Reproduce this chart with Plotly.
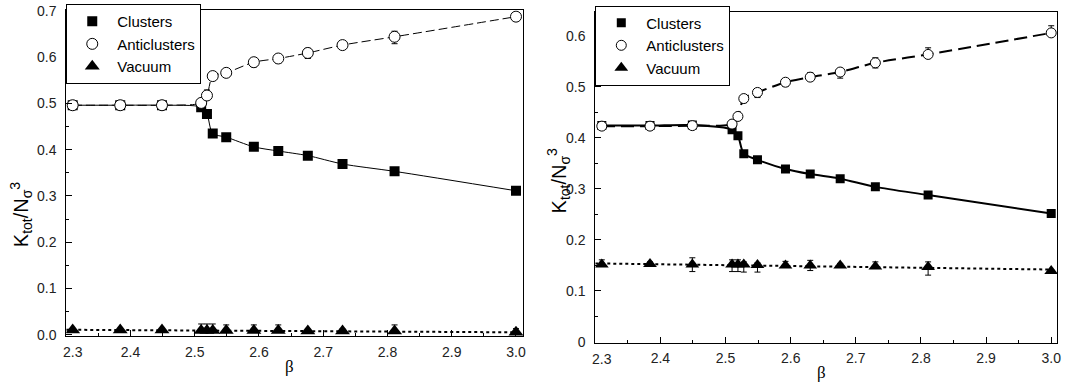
import plotly.graph_objects as go

# ---- data -------------------------------------------------------------
beta = [2.31, 2.384, 2.449, 2.51, 2.519, 2.528, 2.549, 2.592, 2.63, 2.676, 2.73, 2.811, 3.0]

# left panel
clusters_a = [0.496, 0.496, 0.496, 0.4917, 0.477, 0.435, 0.427, 0.406, 0.397, 0.387, 0.369, 0.353, 0.311]
clusters_a_err = [0, 0, 0, 0.006, 0.004, 0.004, 0.003, 0.003, 0.002, 0.002, 0.002, 0.002, 0.002]
anti_a = [0.496, 0.496, 0.496, 0.501, 0.517, 0.559, 0.566, 0.589, 0.597, 0.609, 0.626, 0.644, 0.6875]
anti_a_up = [0.003, 0.003, 0.003, 0.008, 0.012, 0.008, 0.004, 0.008, 0.004, 0.010, 0.008, 0.012, 0.009]
anti_a_dn = [0.003, 0.003, 0.003, 0.008, 0.004, 0.008, 0.004, 0.010, 0.010, 0.012, 0.008, 0.015, 0.009]
vacuum_a = [0.010, 0.010, 0.010, 0.009, 0.009, 0.009, 0.009, 0.009, 0.009, 0.008, 0.008, 0.008, 0.005]
vacuum_a_up = [0.003, 0.002, 0.003, 0.014, 0.014, 0.014, 0.012, 0.012, 0.012, 0.004, 0.004, 0.013, 0.008]
vacuum_a_dn = [0.002] * 13
vac_fit_a_x = [2.3, 3.0]
vac_fit_a_y = [0.0105, 0.005]

# right panel
clusters_b = [0.424, 0.424, 0.425, 0.416, 0.404, 0.369, 0.357, 0.339, 0.329, 0.320, 0.304, 0.288, 0.252]
clusters_b_err = [0, 0, 0, 0.006, 0.004, 0.003, 0.003, 0.003, 0.002, 0.002, 0.002, 0.002, 0.002]
anti_b = [0.423, 0.423, 0.424, 0.427, 0.442, 0.477, 0.489, 0.509, 0.519, 0.529, 0.547, 0.5635, 0.6057]
anti_b_up = [0.003, 0.003, 0.003, 0.006, 0.004, 0.004, 0.004, 0.004, 0.009, 0.004, 0.010, 0.013, 0.014]
anti_b_dn = [0.003, 0.003, 0.003, 0.006, 0.004, 0.008, 0.010, 0.008, 0.004, 0.012, 0.010, 0.004, 0.004]
vacuum_b = [0.152, 0.153, 0.152, 0.152, 0.152, 0.152, 0.151, 0.150, 0.150, 0.150, 0.148, 0.147, 0.139]
vacuum_b_up = [0.009, 0.004, 0.013, 0.009, 0.009, 0.005, 0.004, 0.008, 0.010, 0.004, 0.009, 0.010, 0.003]
vacuum_b_dn = [0.004, 0.004, 0.014, 0.014, 0.014, 0.015, 0.014, 0.004, 0.010, 0.004, 0.004, 0.016, 0.003]
vac_fit_b_x = [2.3, 3.0]
vac_fit_b_y = [0.154, 0.142]

series_names = ["Clusters", "Anticlusters", "Vacuum"]
x_ticks = [2.3, 2.4, 2.5, 2.6, 2.7, 2.8, 2.9, 3.0]
y_ticks_a = [0.0, 0.1, 0.2, 0.3, 0.4, 0.5, 0.6, 0.7]
y_ticks_b = [0.0, 0.1, 0.2, 0.3, 0.4, 0.5, 0.6]
y_labels_b = ["0", "0.1", "0.2", "0.3", "0.4", "0.5", "0.6"]

# ---- page geometry ----------------------------------------------------
W, H = 1082, 390


def fx(p):
    return p / W


def fy(p):
    return 1 - p / H


FONT = "Liberation Sans, Arial, sans-serif"
SERIF = "Liberation Serif, Times New Roman, serif"
fig = go.Figure()


def add_panel(xa, ya, legend, cl, cl_err, ac, ac_up, ac_dn, vac, vac_up, vac_dn,
              fit_x, fit_y, lw, dash, msz):
    # fitted curves (no legend entries)
    fig.add_trace(go.Scatter(x=beta, y=cl, mode="lines", xaxis=xa, yaxis=ya,
                             line=dict(color="black", width=lw, shape="spline", smoothing=0.8),
                             showlegend=False, hoverinfo="skip"))
    fig.add_trace(go.Scatter(x=beta, y=ac, mode="lines", xaxis=xa, yaxis=ya,
                             line=dict(color="black", width=lw, shape="spline", smoothing=0.8, dash=dash),
                             showlegend=False, hoverinfo="skip"))
    fig.add_trace(go.Scatter(x=fit_x, y=fit_y, mode="lines", xaxis=xa, yaxis=ya,
                             line=dict(color="black", width=2, dash="dot"),
                             showlegend=False, hoverinfo="skip"))
    # measured points with error bars
    fig.add_trace(go.Scatter(x=beta, y=cl, mode="markers", name=series_names[0], xaxis=xa, yaxis=ya,
                             legend=legend, legendrank=1,
                             marker=dict(symbol="square", size=msz, color="black"),
                             error_y=dict(type="data", array=cl_err, color="black", thickness=1, width=3)))
    fig.add_trace(go.Scatter(x=beta, y=vac, mode="markers", name=series_names[2], xaxis=xa, yaxis=ya,
                             legend=legend, legendrank=3,
                             marker=dict(symbol="triangle-up", size=msz + 3, color="black"),
                             error_y=dict(type="data", array=vac_up, arrayminus=vac_dn,
                                          color="black", thickness=1, width=3)))
    fig.add_trace(go.Scatter(x=beta, y=ac, mode="markers", name=series_names[1], xaxis=xa, yaxis=ya,
                             legend=legend, legendrank=2,
                             marker=dict(symbol="circle", size=msz + 1, color="white",
                                         line=dict(color="black", width=1)),
                             error_y=dict(type="data", array=ac_up, arrayminus=ac_dn,
                                          color="black", thickness=1, width=3)))


add_panel("x", "y", "legend", clusters_a, clusters_a_err, anti_a, anti_a_up, anti_a_dn,
          vacuum_a, vacuum_a_up, vacuum_a_dn, vac_fit_a_x, vac_fit_a_y, 1, "9px,4px", 10)
add_panel("x2", "y2", "legend2", clusters_b, clusters_b_err, anti_b, anti_b_up, anti_b_dn,
          vacuum_b, vacuum_b_up, vacuum_b_dn, vac_fit_b_x, vac_fit_b_y, 2, "13px,6px", 9)

TICKFONT = dict(family=FONT, size=14, color="#222")
axis_common = dict(showgrid=False, zeroline=False, showline=True, linecolor="black", linewidth=1,
                   mirror=True, ticks="inside", ticklen=6, tickcolor="black",
                   tickfont=TICKFONT, ticklabeloverflow="allow")

xa_common = dict(axis_common, tickvals=x_ticks, ticktext=[""] + [f"{v:.1f}" for v in x_ticks[1:]],
                 ticklabelstandoff=3,
                 minor=dict(dtick=0.05, tick0=2.3, ticks="inside", ticklen=3, tickcolor="black"))
ya_minor = dict(dtick=0.05, tick0=0, ticks="inside", ticklen=3, tickcolor="black")

legend_common = dict(xanchor="left", yanchor="top", bgcolor="white", bordercolor="black", borderwidth=1,
                     font=dict(family=FONT, size=15, color="black"), itemsizing="trace",
                     traceorder="normal", itemwidth=40)

fig.update_layout(
    width=W, height=H, margin=dict(l=0, r=0, t=0, b=0),
    paper_bgcolor="white", plot_bgcolor="white",
    xaxis=dict(xa_common, domain=[fx(66.5), fx(525)], range=[2.3, 3.011], anchor="y"),
    yaxis=dict(axis_common, domain=[fy(341.5), fy(3.3)], range=[-0.0035, 0.7015], anchor="x",
               tickvals=y_ticks_a, ticktext=[f"{v:.1f}" for v in y_ticks_a], ticklabelstandoff=6,
               minor=ya_minor),
    xaxis2=dict(xa_common, domain=[fx(597.5), fx(1061)], range=[2.3, 3.009], anchor="y2"),
    yaxis2=dict(axis_common, domain=[fy(348), fy(5)], range=[-0.001, 0.647], anchor="x2",
                tickvals=y_ticks_b, ticktext=y_labels_b, ticklabelstandoff=6, minor=ya_minor),
    legend=dict(legend_common, x=fx(66.5), y=fy(-3)),
    legend2=dict(legend_common, x=fx(597.5), y=fy(-1.5)),
)

# the first x tick label sits a little inside the frame
for xa_ref, ya_ref in (("x", "y"), ("x2", "y2")):
    fig.add_annotation(x=2.31, xref=xa_ref, y=0, yref=f"{ya_ref} domain", xanchor="center",
                       yanchor="top", yshift=-6, text="2.3", showarrow=False, font=TICKFONT)

title_text = "K<sub>tot</sub>/N<sub>σ</sub><sup>3</sup>"
TITLEFONT = dict(family=FONT, size=20, color="black")
BETAFONT = dict(family=SERIF, size=17, color="black")
fig.add_annotation(x=fx(21), y=fy(215), xref="paper", yref="paper", text=title_text, textangle=-90,
                   xanchor="center", yanchor="middle", showarrow=False, font=TITLEFONT)
fig.add_annotation(x=fx(561), y=fy(180), xref="paper", yref="paper", text=title_text, textangle=-90,
                   xanchor="center", yanchor="middle", showarrow=False, font=TITLEFONT)
fig.add_annotation(x=fx(291), y=fy(373), xref="paper", yref="paper", text="β",
                   xanchor="center", yanchor="middle", showarrow=False, font=BETAFONT)
fig.add_annotation(x=fx(825), y=fy(379), xref="paper", yref="paper", text="β",
                   xanchor="center", yanchor="middle", showarrow=False, font=BETAFONT)

fig.write_html("out.html")
